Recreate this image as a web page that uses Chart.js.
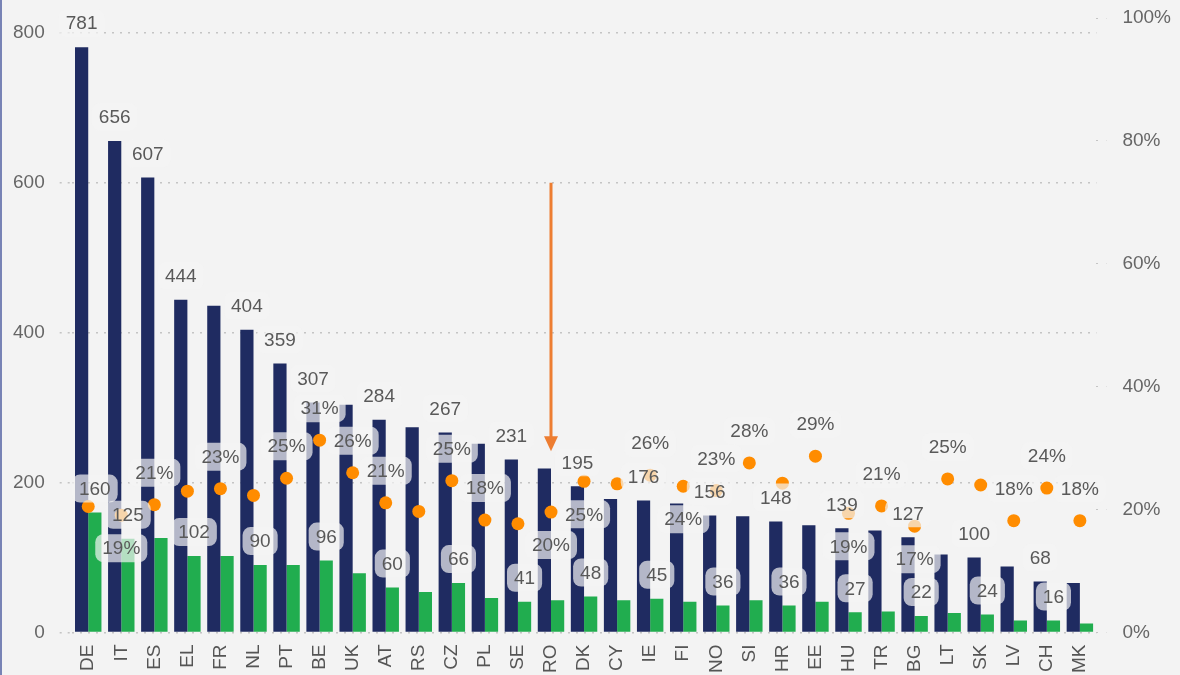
<!DOCTYPE html>
<html lang="en">

<head>
    <meta charset="UTF-8">
    <meta name="viewport" content="width=device-width, initial-scale=1.0">
    <script src="https://cdn.jsdelivr.net/npm/chart.js"></script>
    <title>Chart</title>
    <style>
        html,
        body {
            margin: 0;
            padding: 0;
            background: #f3f3f3;
        }

        #moldura {
            width: 1180px;
            height: 675px;
            box-sizing: border-box;
            border-left: 2px solid #7883b5;
            overflow: hidden;
        }

        canvas {
            display: block;
        }
    </style>
</head>

<body>
    <div id="moldura">
        <canvas id="grafico"></canvas>
    </div>
</body>

</html>

<script>
    // dados
    var paises = ['DE', 'IT', 'ES', 'EL', 'FR', 'NL', 'PT', 'BE', 'UK', 'AT', 'RS', 'CZ', 'PL', 'SE', 'RO', 'DK',
        'CY', 'IE', 'FI', 'NO', 'SI', 'HR', 'EE', 'HU', 'TR', 'BG', 'LT', 'SK', 'LV', 'CH', 'MK'];
    var totais = [781, 656, 607, 444, 436, 404, 359, 307, 304, 284, 274, 267, 252, 231, 219, 195,
        178, 176, 172, 156, 155, 148, 143, 139, 136, 127, 104, 100, 88, 68, 66];
    var parciais = [160, 125, 126, 102, 102, 90, 90, 96, 79, 60, 54, 66, 46, 41, 43, 48,
        43, 45, 41, 36, 43, 36, 41, 27, 28, 22, 26, 24, 16, 16, 12];
    var percentuais = [20.5, 19.1, 20.8, 23, 23.4, 22.3, 25.1, 31.3, 26, 21.1, 19.7, 24.7, 18.3, 17.7, 19.6, 24.6,
        24.2, 25.6, 23.8, 23.1, 27.6, 24.3, 28.7, 19.4, 20.6, 17.3, 25, 24, 18.2, 23.5, 18.2];
    var ticksEsquerda = [0, 200, 400, 600, 800];
    var seta = { pais: 'RO', inicio: 600, fim: 242 };

    Chart.defaults.font.family = '"Liberation Sans", Arial, sans-serif';
    Chart.defaults.font.size = 19;
    Chart.defaults.color = '#666';

    // rotulos com caixa, escondendo os que se sobrepoem
    var rotulos = {
        id: 'rotulos',
        afterDatasetsDraw: function (chart) {
            var ctx = chart.ctx;
            var ocupados = [];
            var grupos = [
                { ds: 1, texto: function (v) { return String(v); }, deslocs: [-24] },
                { ds: 2, texto: function (v) { return String(v); }, deslocs: [-24] },
                { ds: 0, texto: function (v) { return Math.round(v) + '%'; }, deslocs: [-32, 33] }
            ];
            ctx.save();
            ctx.font = '19px "Liberation Sans", Arial, sans-serif';
            ctx.textAlign = 'center';
            ctx.textBaseline = 'middle';

            grupos.forEach(function (g) {
                var meta = chart.getDatasetMeta(g.ds);
                meta.data.forEach(function (el, i) {
                    var txt = g.texto(chart.data.datasets[g.ds].data[i]);
                    var w = ctx.measureText(txt).width;
                    for (var k = 0; k < g.deslocs.length; k++) {
                        var x = el.x;
                        var y = el.y + g.deslocs[k];
                        var r = { x1: x - w / 2 - 7, x2: x + w / 2 + 7, y1: y - 13, y2: y + 13 };
                        var colide = ocupados.some(function (o) {
                            return r.x1 < o.x2 && r.x2 > o.x1 && r.y1 < o.y2 && r.y2 > o.y1;
                        });
                        if (!colide) {
                            ocupados.push(r);
                            ctx.fillStyle = 'rgba(243,243,243,0.7)';
                            ctx.beginPath();
                            ctx.roundRect(x - w / 2 - 7, y - 14, w + 14, 28, 8);
                            ctx.fill();
                            ctx.fillStyle = '#595959';
                            ctx.fillText(txt, x, y + 1);
                            break;
                        }
                    }
                });
            });
            ctx.restore();
        }
    };

    var flecha = {
        id: 'flecha',
        afterDraw: function (chart) {
            var ctx = chart.ctx;
            var x = chart.scales.x.getPixelForValue(paises.indexOf(seta.pais));
            var y0 = chart.scales.y.getPixelForValue(seta.inicio);
            var y1 = chart.scales.y.getPixelForValue(seta.fim);
            ctx.save();
            ctx.strokeStyle = '#ed7d31';
            ctx.fillStyle = '#ed7d31';
            ctx.lineWidth = 3;
            ctx.beginPath();
            ctx.moveTo(x, y0);
            ctx.lineTo(x, y1 - 12);
            ctx.stroke();
            ctx.beginPath();
            ctx.moveTo(x - 7, y1 - 15);
            ctx.lineTo(x + 7, y1 - 15);
            ctx.lineTo(x, y1);
            ctx.closePath();
            ctx.fill();
            ctx.restore();
        }
    };

    function semFolgaTopo(escala) {
        escala.paddingTop = 0;
    }

    var ctx = document.getElementById('grafico');
    ctx.width = 1178;
    ctx.height = 675;

    var grafico = new Chart(ctx, {
        data: {
            labels: paises,
            datasets: [{
                type: 'line',
                label: '%',
                data: percentuais,
                yAxisID: 'y1',
                showLine: false,
                pointRadius: 6.5,
                pointHoverRadius: 6.5,
                pointBackgroundColor: '#ff8c00',
                pointBorderWidth: 0,
                order: 0
            }, {
                type: 'bar',
                label: 'Total',
                data: totais,
                yAxisID: 'y',
                backgroundColor: '#1f2b61',
                categoryPercentage: 0.8,
                barPercentage: 1.0,
                order: 1
            }, {
                type: 'bar',
                label: 'Parcial',
                data: parciais,
                yAxisID: 'y',
                backgroundColor: '#21ad4f',
                categoryPercentage: 0.8,
                barPercentage: 1.0,
                order: 1
            }]
        },
        options: {
            responsive: false,
            animation: false,
            layout: {
                padding: { left: -4, right: -7, top: 18, bottom: -2 }
            },
            plugins: {
                legend: { display: false },
                tooltip: { enabled: false }
            },
            scales: {
                x: {
                    grid: { display: false },
                    border: { display: false },
                    ticks: {
                        minRotation: 90,
                        maxRotation: 90,
                        padding: 4,
                        color: '#555'
                    }
                },
                y: {
                    position: 'left',
                    min: 0,
                    max: 820,
                    afterBuildTicks: function (escala) {
                        escala.ticks = ticksEsquerda.map(function (v) { return { value: v }; });
                    },
                    afterFit: semFolgaTopo,
                    grid: {
                        color: '#c4c4c4',
                        lineWidth: 1.5,
                        tickLength: 12,
                        tickColor: '#c4c4c4',
                        tickBorderDash: [2, 6]
                    },
                    border: { display: false, dash: [2, 6] },
                    ticks: {
                        padding: 15,
                        color: '#666'
                    }
                },
                y1: {
                    position: 'right',
                    min: 0,
                    max: 100,
                    afterFit: semFolgaTopo,
                    border: { display: false },
                    grid: {
                        drawOnChartArea: false,
                        tickLength: 10,
                        tickColor: '#c4c4c4',
                        tickBorderDash: [2, 8]
                    },
                    ticks: {
                        stepSize: 20,
                        padding: 16,
                        color: '#666',
                        callback: function (v) { return v + '%'; }
                    }
                }
            }
        },
        plugins: [rotulos, flecha]
    });
</script>
